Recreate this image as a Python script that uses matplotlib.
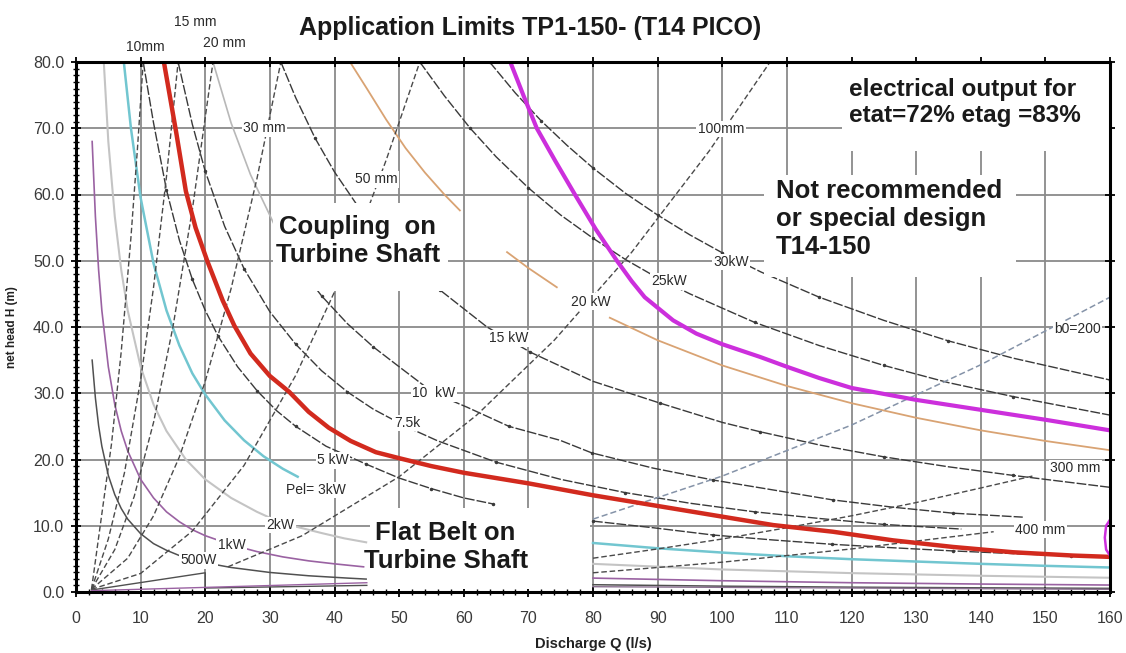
import matplotlib
matplotlib.use("Agg")
import matplotlib.pyplot as plt
from matplotlib.patches import Rectangle
from matplotlib.ticker import MultipleLocator, FormatStrFormatter

plt.rcParams["font.family"] = ["Liberation Sans", "DejaVu Sans"]

# limit curves (Q in l/s, H in m)
RED_Q = [13.6, 15.5, 17.0, 18.5, 20.3, 22.7, 24.5, 27.0, 30.0, 33.0, 36.0, 39.1, 42.5, 46.4, 50.0,
         55.0, 60.0, 70.0, 80.0, 89.3, 98.6, 107.9, 117.1, 126.4, 135.7, 145.0, 154.3, 160.0]
RED_H = [80, 69.4, 60.5, 55.0, 50.0, 44.0, 40.2, 36.0, 32.6, 30.2, 27.2, 24.8, 22.8, 21.1, 20.2,
         19.0, 18.0, 16.4, 14.6, 13.1, 11.6, 10.1, 9.1, 7.8, 6.8, 6.0, 5.5, 5.3]
MAG_Q = [67.2, 69.3, 71.3, 74.2, 77.2, 80.4, 83.7, 86.0, 88.0, 92.4, 96.0, 100.0, 105.8, 110, 115, 120,
         130, 140, 150, 160]
MAG_H = [80, 74.8, 70, 65.0, 60, 54.8, 50, 46.9, 44.5, 41.0, 39.0, 37.4, 35.5, 34.0, 32.3, 30.8,
         29.0, 27.5, 26.0, 24.4]
MAGB_Q = [160, 159.4, 159.2, 159.4, 160]
MAGB_H = [10.9, 10.0, 8.2, 6.4, 5.5]

# electrical output curves
P30_Q = [64, 68, 72, 76, 80, 85, 90, 95, 100, 106, 115, 125, 135, 145, 160]
P30_H = [80, 75.3, 71.1, 67.4, 64, 60.2, 56.9, 53.9, 51.2, 48.3, 44.5, 41, 37.9, 35.3, 32]
P25_Q = [53.2, 57, 61, 65, 70, 75, 80, 85, 90, 95, 105, 115, 125, 135, 145, 160]
P25_H = [80, 74.9, 70, 65.7, 61, 56.9, 53.4, 50.2, 47.4, 45, 40.7, 37.2, 34.2, 31.6, 29.5, 26.7]
P20A_Q = [42.4, 45, 48, 51, 54, 57, 59.4]
P20A_H = [80, 76, 71.3, 67, 63.3, 60, 57.6]
P20B_Q = [66.7, 70, 74.4]
P20B_H = [51.3, 48.9, 46]
P20C_Q = [82.6, 90, 100, 110, 120, 130, 140, 150, 160]
P20C_H = [41.4, 38, 34.2, 31.1, 28.5, 26.3, 24.4, 22.8, 21.4]
P15_Q = [31.7, 34, 37, 40, 43.5, 50, 56.3, 63.6, 70.3, 80, 90.4, 100, 105.8, 115, 125, 135, 145, 160]
P15_H = [80, 74.6, 68.5, 63.4, 58.4, 50.8, 45.6, 40, 36.2, 31.8, 28.5, 25.6, 24.2, 22.2, 20.4, 18.9, 17.6, 15.8]
P10A_Q = [21.2, 24, 27, 31]
P10A_H = [80, 70.8, 63, 54.8]
P10B_Q = [31, 35, 38, 42, 46, 50, 55.4, 60.5, 67, 74.9, 79.8, 89.3, 98.6, 107.9, 117.1, 126.4, 135.7, 146.5]
P10B_H = [54.8, 48.5, 44.7, 40.5, 37, 34, 30, 27.9, 25, 22.9, 21, 18.7, 16.9, 15.4, 13.9, 12.8, 11.9, 11.3]
P7_Q = [15.8, 18, 20, 23, 26, 30, 34, 38, 42, 46, 51, 56, 65, 75, 85, 95, 105, 115, 125, 137]
P7_H = [80, 70.6, 63.5, 55.2, 48.8, 42.3, 37.4, 33.4, 30.2, 27.6, 25, 22.8, 19.6, 17, 15, 13.4, 12.1, 11.1, 10.2, 9.5]
P5A_Q = [10.4, 12, 14, 16, 18, 20, 22, 25, 28, 31, 34, 38.7, 44.9, 50, 55, 60, 64.5]
P5A_H = [80, 70.8, 60.7, 53.1, 47.2, 42.5, 38.6, 34, 30.4, 27.4, 25, 22, 19.3, 17.2, 15.6, 14.2, 13.3]
P5B_Q = [80, 89.3, 98.6, 107.9, 117, 126, 135.7, 145, 154, 160]
P5B_H = [10.7, 9.7, 8.6, 7.85, 7.2, 6.7, 6.2, 5.8, 5.45, 5.3]
P3A_Q = [7.4, 8.5, 10, 12, 14, 16, 18, 20, 23, 26, 29, 32, 34.3]
P3A_H = [80, 70, 59.5, 49.6, 42.5, 37.2, 33, 29.8, 25.9, 22.9, 20.5, 18.6, 17.4]
P3B_Q = [80, 90, 100, 110, 120, 130, 140, 150, 160]
P3B_H = [7.4, 6.6, 5.95, 5.4, 4.95, 4.6, 4.25, 3.95, 3.7]
P2A_Q = [4.3, 5, 6, 7, 8, 10, 12, 14, 17, 20, 24, 28, 31.6, 34.3, 38, 41.5, 44.9]
P2A_H = [80, 68, 56.7, 48.6, 42.5, 34, 28.3, 24.3, 20, 17, 14.2, 12.1, 10.5, 9.8, 8.9, 8.1, 7.5]
P2B_Q = [80, 100, 120, 140, 160]
P2B_H = [4.25, 3.4, 2.85, 2.45, 2.15]
P1A_Q = [2.5, 3, 3.5, 4, 5, 6, 7, 8, 10, 12, 14, 16, 18, 20, 24.1, 28, 32, 36, 40, 44.5]
P1A_H = [68, 56.7, 48.6, 42.5, 34, 28.3, 24.3, 21.3, 17, 14.2, 12.1, 10.6, 9.4, 8.5, 7.1, 6.1, 5.3, 4.7, 4.25, 3.8]
P1B_Q = [80, 100, 120, 140, 160]
P1B_H = [2.1, 1.7, 1.4, 1.2, 1.05]
P05A_Q = [2.5, 3, 3.5, 4, 5, 6, 7, 8, 10, 12, 14, 16, 19, 24, 30, 36, 42, 44.9]
P05A_H = [35, 29.3, 25.1, 22, 17.6, 14.7, 12.6, 11, 8.8, 7.3, 6.3, 5.5, 4.6, 3.7, 2.95, 2.45, 2.1, 1.95]
P05B_Q = [80, 100, 120, 140, 160]
P05B_H = [1.1, 0.88, 0.73, 0.63, 0.55]

# nozzle diameter / runner width lines
D10_Q = [2.4, 4, 5.5, 7, 8.5, 9.5, 10.4]
D10_H = [0.4, 11.8, 22.4, 36.3, 53.5, 66.8, 80]
D15_Q = [2.4, 5, 7.5, 10, 12, 14, 15.8]
D15_H = [0.4, 8, 18, 32, 46, 62.7, 80]
D20_Q = [2.4, 6, 9, 12, 15, 18, 21.2]
D20_H = [0.4, 6.4, 14.4, 25.6, 40, 57.7, 80]
D30_Q = [2.4, 8, 12, 16, 20, 24, 28, 31.7]
D30_H = [0.4, 5.1, 11.5, 20.4, 31.8, 45.8, 62.4, 80]
D50_Q = [2.4, 10, 18, 26, 34, 40, 44, 48, 53.2]
D50_H = [0.4, 2.8, 9.2, 19.1, 32.7, 45.3, 54.8, 65.2, 80]
D100_Q = [23.5, 35, 50, 62, 74, 86, 98, 107.4]
D100_H = [3.8, 8.5, 17.4, 26.7, 38, 51.3, 66.6, 80]
B200_Q = [80, 100, 120, 140, 160]
B200_H = [11, 17.5, 25.2, 34.3, 44.5]
D300_Q = [80, 90, 100, 110, 120, 130, 140, 148]
D300_H = [5.1, 6.5, 8, 9.7, 11.5, 13.5, 15.7, 17.5]
D400_Q = [80, 100, 120, 142]
D400_H = [2.9, 4.5, 6.5, 9.1]
LOW1_Q = [2.4, 20, 20, 45]
LOW1_H = [0.3, 2.9, 0.6, 1.0]
LOW2_Q = [2.4, 45]
LOW2_H = [0.2, 1.4]
LOW3_Q = [80, 160]
LOW3_H = [0.8, 0.4]

X_TICKS = list(range(0, 161, 10))
Y_TICKS = list(range(0, 81, 10))

fig = plt.figure(figsize=(11.26, 6.53), dpi=100)
ax = fig.add_axes([76 / 1126, 1 - 592 / 653, 1034 / 1126, 530 / 653])
ax.set_xlim(0, 160)
ax.set_ylim(0, 80)

DARK = "#3a3a3a"
dash_p = (0, (7, 1.5))
dash_d = (0, (4, 2))

# power curves
for q, h in [(P30_Q, P30_H), (P25_Q, P25_H), (P15_Q, P15_H), (P10B_Q, P10B_H),
             (P7_Q, P7_H), (P5A_Q, P5A_H), (P5B_Q, P5B_H)]:
    ax.plot(q, h, color=DARK, lw=1.0, ls=dash_p, marker=".", ms=3, markevery=2, zorder=3)
ax.plot(P10A_Q, P10A_H, color="#b8b8b8", lw=1.2, zorder=3)
for q, h in [(P20A_Q, P20A_H), (P20B_Q, P20B_H), (P20C_Q, P20C_H)]:
    ax.plot(q, h, color="#d9a373", lw=1.3, zorder=3)
for q, h in [(P3A_Q, P3A_H), (P3B_Q, P3B_H)]:
    ax.plot(q, h, color="#72c6d0", lw=1.8, zorder=3)
for q, h in [(P2A_Q, P2A_H), (P2B_Q, P2B_H)]:
    ax.plot(q, h, color="#c4c4c4", lw=1.5, zorder=3)
for q, h in [(P1A_Q, P1A_H), (P1B_Q, P1B_H)]:
    ax.plot(q, h, color="#9a62a2", lw=1.2, zorder=3)
for q, h in [(P05A_Q, P05A_H), (P05B_Q, P05B_H)]:
    ax.plot(q, h, color="#505050", lw=1.1, zorder=3)

# diameter lines
for q, h in [(D10_Q, D10_H), (D15_Q, D15_H), (D20_Q, D20_H), (D30_Q, D30_H),
             (D50_Q, D50_H), (D100_Q, D100_H), (D300_Q, D300_H), (D400_Q, D400_H)]:
    ax.plot(q, h, color="#4a4a4a", lw=1.0, ls=dash_d, zorder=3)
ax.plot(B200_Q, B200_H, color="#8593a8", lw=1.1, ls=dash_d, zorder=3)
ax.plot(LOW1_Q, LOW1_H, color="#505050", lw=1.0, zorder=3)
ax.plot(LOW2_Q, LOW2_H, color="#9a62a2", lw=1.0, zorder=3)
ax.plot(LOW3_Q, LOW3_H, color="#8a7090", lw=1.0, zorder=3)

# limits
ax.plot(RED_Q, RED_H, color="#d22a1e", lw=3.2, zorder=4)
ax.plot(MAG_Q, MAG_H, color="#cc2fdc", lw=3, zorder=4)
ax.plot(MAGB_Q, MAGB_H, color="#cc2fdc", lw=1.8, zorder=4, clip_on=False)

# white boxes behind the big notes
for x0, y0, w, h in [(30.5, 45.5, 27.0, 13.2), (45.5, 0.5, 34, 12.2),
                     (106.5, 47.5, 39, 15.5), (118.5, 66.5, 41.3, 13.3)]:
    ax.add_patch(Rectangle((x0, y0), w, h, facecolor="white", edgecolor="none", zorder=5))

big = dict(fontsize=18.5, fontweight="bold", color="#1a1a1a", zorder=6, linespacing=1.2)
ax.text(43.6, 53.0, "Coupling  on\nTurbine Shaft", ha="center", va="center", **big)
ax.text(57.2, 6.8, "Flat Belt on\nTurbine Shaft", ha="center", va="center", **big)
ax.text(108.3, 56.3, "Not recommended\nor special design\nT14-150", ha="left", va="center", **big)
ax.text(119.6, 73.9, "electrical output for\netat=72% etag =83%", ha="left", va="center",
        fontsize=17.5, fontweight="bold", color="#1a1a1a", zorder=6, linespacing=1.15)

box = dict(facecolor="white", edgecolor="none", pad=1.0)
small = [("30 mm", 29.2, 70.0), ("50 mm", 46.4, 62.3), ("100mm", 99.8, 69.9),
         ("Pel= 3kW", 37.1, 15.4), ("5 kW", 39.8, 19.9), ("7.5k", 51.2, 25.5),
         ("10  kW", 55.4, 30.0), ("15 kW", 67.0, 38.3), ("20 kW", 79.7, 43.8),
         ("25kW", 91.8, 46.9), ("30kW", 101.4, 49.8), ("b0=200", 155.0, 39.7),
         ("300 mm", 154.6, 18.7), ("400 mm", 149.2, 9.4), ("2kW", 31.6, 10.1),
         ("1kW", 24.1, 7.1), ("500W", 19.0, 4.8)]
for s, x, y in small:
    ax.text(x, y, s, ha="center", va="center", fontsize=10, color="#2a2a2a", bbox=box, zorder=7)
for s, x, y in [("10mm", 10.7, 82.3), ("15 mm", 18.4, 86.0), ("20 mm", 23.0, 82.9)]:
    ax.text(x, y, s, ha="center", va="center", fontsize=10, color="#2a2a2a", clip_on=False)

ax.set_xticks(X_TICKS)
ax.set_yticks(Y_TICKS)
ax.yaxis.set_major_formatter(FormatStrFormatter("%.1f"))
ax.xaxis.set_minor_locator(MultipleLocator(2))
ax.yaxis.set_minor_locator(MultipleLocator(1))
ax.tick_params(axis="x", which="major", pad=10)
ax.tick_params(axis="y", which="major", pad=5)
ax.tick_params(which="major", direction="inout", length=7, width=1.3, labelsize=11.5,
               labelcolor="#3a3a3a", top=True, right=True)
ax.tick_params(which="minor", direction="inout", length=4, width=1.0, top=False, right=False)
ax.grid(which="major", color="#8a8a8a", lw=1.3, zorder=1)
ax.set_axisbelow(True)
for sp in ax.spines.values():
    sp.set_linewidth(2.2)
    sp.set_zorder(8)

ax.set_xlabel("Discharge Q (l/s)", fontsize=10.5, fontweight="bold", color="#222222", labelpad=8)
ax.set_ylabel("net head H (m)", fontsize=8.5, fontweight="bold", color="#222222", labelpad=11)
fig.text(530 / 1126, 1 - 28 / 653, "Application Limits TP1-150- (T14 PICO)", ha="center",
         va="center", fontsize=18, fontweight="bold", color="#1a1a1a")

fig.savefig("out.png", dpi=100)
